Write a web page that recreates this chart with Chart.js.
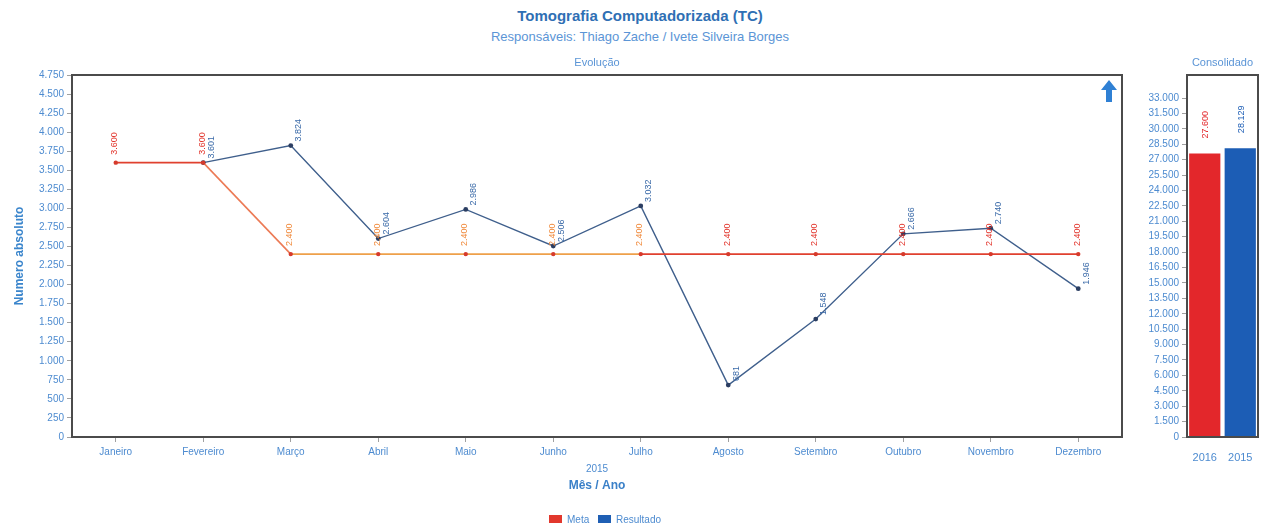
<!DOCTYPE html>
<html>
<head>
<meta charset="utf-8">
<script src="https://cdn.jsdelivr.net/npm/chart.js@4/dist/chart.umd.min.js"></script>
<style>
  html, body { margin: 0; padding: 0; background: #fff; }
  #wrap { position: relative; width: 1266px; height: 527px; overflow: hidden; background: #fff; }
  #main { position: absolute; left: 0; top: 0; }
  #cons { position: absolute; left: 1130px; top: 0; }
  .head { position: absolute; left: 0; width: 1280px; text-align: center; white-space: nowrap; }
  #titulo { top: 7px; font: bold 15px "Liberation Sans", Arial, sans-serif; color: #2f6fb4; }
  #subtitulo { top: 29px; font: 13px "Liberation Sans", Arial, sans-serif; color: #5b95d6; }
</style>
</head>
<body>
<div id="wrap">
  <div class="head" id="titulo">Tomografia Computadorizada (TC)</div>
  <div class="head" id="subtitulo">Responsáveis: Thiago Zache / Ivete Silveira Borges</div>
  <canvas id="main" width="1200" height="527"></canvas>
  <canvas id="cons" width="136" height="527"></canvas>
</div>
<script>
// Evolução mensal 2015
const meses = ['Janeiro', 'Fevereiro', 'Março', 'Abril', 'Maio', 'Junho',
               'Julho', 'Agosto', 'Setembro', 'Outubro', 'Novembro', 'Dezembro'];
const meta = [3600, 3600, 2400, 2400, 2400, 2400, 2400, 2400, 2400, 2400, 2400, 2400];
const resultado = [null, 3601, 3824, 2604, 2986, 2506, 3032, 681, 1548, 2666, 2740, 1946];

// Consolidado anual
const anos = ['2016', '2015'];
const consolidado = [27600, 28129];

// escalas
const evolucaoMax = 4750, evolucaoPasso = 250;
const consolidadoMax = 35250, consolidadoPasso = 1500, consolidadoUltimoTick = 33000;

const FONTE = '"Liberation Sans", Arial, sans-serif';
const AZUL_TXT = '#4d8bd0';
const VERMELHO = '#e0402f';
const LARANJA = '#eea04a';
const AZUL_LINHA = '#3f5f8c';

const fmt = v => String(Math.round(v)).replace(/\B(?=(\d{3})+(?!\d))/g, '.');

// moldura escura em volta da área de plotagem
const moldura = {
  id: 'moldura',
  afterDatasetsDraw(chart) {
    const a = chart.chartArea, c = chart.ctx;
    c.save();
    c.strokeStyle = '#4b4b4b';
    c.lineWidth = 2;
    c.strokeRect(a.left, a.top, a.right - a.left, a.bottom - a.top);
    c.restore();
  }
};

// rótulos de valor girados acima de cada ponto/barra
const rotulos = {
  id: 'rotulos',
  afterDatasetsDraw(chart) {
    const c = chart.ctx;
    chart.data.datasets.forEach((ds, i) => {
      const metaDs = chart.getDatasetMeta(i);
      const cfg = ds.rotulo;
      if (!cfg) return;
      metaDs.data.forEach((el, j) => {
        const v = ds.data[j];
        if (v === null || v === undefined) return;
        const cor = Array.isArray(cfg.cor) ? cfg.cor[j] : cfg.cor;
        c.save();
        c.fillStyle = cor;
        c.font = cfg.fonte;
        c.textAlign = 'left';
        c.textBaseline = 'middle';
        c.translate(el.x + cfg.dx, el.y - cfg.gap);
        c.rotate(-Math.PI / 2);
        c.fillText(fmt(v), 0, 0);
        c.restore();
      });
    });
  }
};

// textos e legenda do painel de evolução
const extrasEvolucao = {
  id: 'extrasEvolucao',
  afterDraw(chart) {
    const c = chart.ctx, a = chart.chartArea;
    c.save();
    c.fillStyle = '#5b95d6';
    c.font = '11px ' + FONTE;
    c.textAlign = 'center';
    c.textBaseline = 'middle';
    c.fillText('Evolução', (a.left + a.right) / 2, 63);
    c.fillStyle = AZUL_TXT;
    c.font = '10px ' + FONTE;
    c.fillText('2015', (a.left + a.right) / 2, 469);
    c.fillStyle = '#3a80c8';
    c.font = 'bold 12px ' + FONTE;
    c.fillText('Mês / Ano', (a.left + a.right) / 2, 486);

    // seta indicadora
    c.fillStyle = '#2f80d4';
    c.beginPath();
    c.moveTo(1109, 80);
    c.lineTo(1117, 90);
    c.lineTo(1112, 90);
    c.lineTo(1112, 102);
    c.lineTo(1106, 102);
    c.lineTo(1106, 90);
    c.lineTo(1101, 90);
    c.closePath();
    c.fill();

    // legenda
    const itens = [
      { txt: 'Meta', cor: '#e2382d', x: 549 },
      { txt: 'Resultado', cor: '#1f5fb4', x: 598 }
    ];
    c.font = '10px ' + FONTE;
    c.textAlign = 'left';
    itens.forEach(it => {
      c.fillStyle = it.cor;
      c.fillRect(it.x, 515, 13, 8);
      c.fillStyle = AZUL_TXT;
      c.fillText(it.txt, it.x + 18, 520);
    });
    c.restore();
  }
};

const corMetaPonto = meta.map((_, i) => (i >= 2 && i <= 6) ? LARANJA : VERMELHO);

new Chart(document.getElementById('main'), {
  type: 'line',
  data: {
    labels: meses,
    datasets: [
      {
        label: 'Meta',
        data: meta,
        borderColor: VERMELHO,
        borderWidth: 1.6,
        pointRadius: 2.2,
        pointBackgroundColor: '#d63a2c',
        pointBorderWidth: 0,
        tension: 0,
        segment: {
          borderColor: s => {
            const i = s.p0DataIndex;
            if (i === 1) return '#ec7a55';
            if (i >= 2 && i <= 5) return LARANJA;
            return VERMELHO;
          }
        },
        rotulo: { cor: corMetaPonto.map(c => c === LARANJA ? '#f08a3c' : '#e2352c'), fonte: '9px ' + FONTE, dx: -1, gap: 8 }
      },
      {
        label: 'Resultado',
        data: resultado,
        borderColor: AZUL_LINHA,
        borderWidth: 1.4,
        pointRadius: 2.4,
        pointBackgroundColor: '#2b3e62',
        pointBorderWidth: 0,
        tension: 0,
        spanGaps: false,
        rotulo: { cor: '#3a6aa8', fonte: '9px ' + FONTE, dx: 8, gap: 4 }
      }
    ]
  },
  options: {
    responsive: false,
    animation: false,
    layout: { padding: { top: 75, right: 78, left: 0, bottom: 0 } },
    plugins: { legend: { display: false }, tooltip: { enabled: false } },
    scales: {
      x: {
        offset: true,
        border: { display: false },
        grid: { display: true, drawOnChartArea: false, tickLength: 5, color: '#a0a0a0' },
        ticks: { color: AZUL_TXT, font: { size: 10, family: FONTE }, padding: 4, maxRotation: 0, autoSkip: false },
        afterFit(s) { s.height = 90; }
      },
      y: {
        min: 0,
        max: evolucaoMax,
        border: { display: false },
        grid: { display: true, drawOnChartArea: false, tickLength: 5, color: '#a0a0a0' },
        ticks: { stepSize: evolucaoPasso, color: AZUL_TXT, font: { size: 10, family: FONTE }, padding: 3, callback: v => fmt(v) },
        title: { display: true, text: 'Numero absoluto', color: '#3a85cc', font: { size: 12, weight: 'bold', family: FONTE }, padding: { top: 12, bottom: 0 } },
        afterFit(s) { s.width = 72; }
      }
    }
  },
  plugins: [moldura, rotulos, extrasEvolucao]
});

// painel consolidado
const extrasConsolidado = {
  id: 'extrasConsolidado',
  afterDraw(chart) {
    const c = chart.ctx, a = chart.chartArea;
    c.save();
    c.fillStyle = '#5b95d6';
    c.font = '11px ' + FONTE;
    c.textAlign = 'center';
    c.textBaseline = 'middle';
    c.fillText('Consolidado', (a.left + a.right) / 2, 63);
    c.restore();
  }
};

new Chart(document.getElementById('cons'), {
  type: 'bar',
  data: {
    labels: anos,
    datasets: [{
      label: 'Consolidado',
      data: consolidado,
      backgroundColor: ['#e3272b', '#1c5db5'],
      borderWidth: 0,
      barPercentage: 0.88,
      categoryPercentage: 1,
      rotulo: { cor: ['#e3272b', '#1c5db5'], fonte: '9px ' + FONTE, dx: 1, gap: 15 }
    }]
  },
  options: {
    responsive: false,
    animation: false,
    layout: { padding: { top: 75, right: 8, left: 0, bottom: 0 } },
    plugins: { legend: { display: false }, tooltip: { enabled: false } },
    scales: {
      x: {
        border: { display: false },
        grid: { display: false },
        ticks: { color: AZUL_TXT, font: { size: 11, family: FONTE }, padding: 6, maxRotation: 0 },
        afterFit(s) { s.height = 90; }
      },
      y: {
        min: 0,
        max: consolidadoMax,
        border: { display: false },
        grid: { display: true, drawOnChartArea: false, tickLength: 5, color: '#a0a0a0' },
        ticks: { color: AZUL_TXT, font: { size: 10, family: FONTE }, padding: 3, callback: v => fmt(v) },
        afterBuildTicks(s) {
          const t = [];
          for (let v = 0; v <= consolidadoUltimoTick; v += consolidadoPasso) t.push({ value: v });
          s.ticks = t;
        },
        afterFit(s) { s.width = 57; }
      }
    }
  },
  plugins: [moldura, rotulos, extrasConsolidado]
});
</script>
</body>
</html>
